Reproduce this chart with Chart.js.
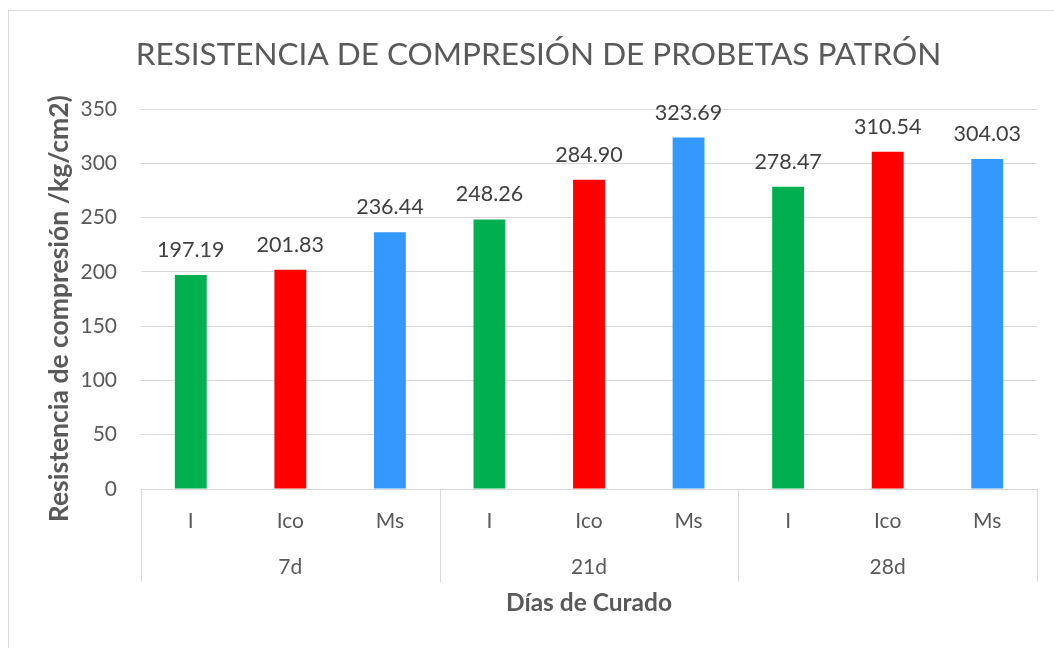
<!DOCTYPE html>
<html>
<head>
<meta charset="utf-8">
<script src="https://cdn.jsdelivr.net/npm/chart.js@4.4.1/dist/chart.umd.min.js"></script>
<style>
  html, body { margin: 0; padding: 0; background: #fff; }
  #wrap { position: relative; width: 1054px; height: 648px; overflow: hidden; }
  #frame { position: absolute; left: 8px; top: 10px; width: 1100px; height: 700px; border: 1px solid #d9d9d9; box-sizing: border-box; }
  canvas { position: absolute; left: 0; top: 0; }
</style>
</head>
<body>
<div id="wrap">
  <div id="frame"></div>
  <canvas id="c" width="1054" height="648"></canvas>
</div>
<script>
const subLabels = ['I', 'Ico', 'Ms', 'I', 'Ico', 'Ms', 'I', 'Ico', 'Ms'];
const groupLabels = ['7d', '21d', '28d'];
const values = [197.19, 201.83, 236.44, 248.26, 284.90, 323.69, 278.47, 310.54, 304.03];
const barColors = ['#00B050', '#FF0000', '#3399FF', '#00B050', '#FF0000', '#3399FF', '#00B050', '#FF0000', '#3399FF'];
const yTicks = [0, 50, 100, 150, 200, 250, 300, 350];

const FONT = 'Lato, "Open Sans", sans-serif';
const TICK_COLOR = '#595959';
const GRID = '#d9d9d9';

const groupPlugin = {
  id: 'groups',
  afterDraw(chart) {
    const ctx = chart.ctx;
    const xs = chart.scales.x;
    const area = chart.chartArea;
    const n = subLabels.length;
    const per = n / groupLabels.length;
    const half = (xs.getPixelForValue(1) - xs.getPixelForValue(0)) / 2;
    ctx.save();
    ctx.strokeStyle = GRID;
    ctx.lineWidth = 1;
    for (let g = 0; g <= groupLabels.length; g++) {
      const idx = Math.min(g * per, n - 1);
      let px = xs.getPixelForValue(idx) + (g * per >= n ? half : -half);
      px = Math.round(px) + 0.5;
      ctx.beginPath();
      ctx.moveTo(px, area.bottom);
      ctx.lineTo(px, area.bottom + 93);
      ctx.stroke();
    }
    ctx.fillStyle = TICK_COLOR;
    ctx.font = '21px ' + FONT;
    ctx.textAlign = 'center';
    ctx.textBaseline = 'middle';
    groupLabels.forEach((lab, g) => {
      const a = xs.getPixelForValue(g * per);
      const b = xs.getPixelForValue(g * per + per - 1);
      ctx.fillText(lab, (a + b) / 2, area.bottom + 78);
    });
    ctx.restore();
  }
};

const labelPlugin = {
  id: 'vlabels',
  afterDatasetsDraw(chart) {
    const ctx = chart.ctx;
    const meta = chart.getDatasetMeta(0);
    ctx.save();
    ctx.fillStyle = '#404040';
    ctx.font = '21.5px ' + FONT;
    ctx.textAlign = 'center';
    ctx.textBaseline = 'middle';
    meta.data.forEach((bar, i) => {
      ctx.fillText(values[i].toFixed(2), bar.x, bar.y - 25);
    });
    ctx.restore();
  }
};

new Chart(document.getElementById('c'), {
  type: 'bar',
  data: {
    labels: subLabels,
    datasets: [{
      data: values,
      backgroundColor: barColors,
      borderWidth: 0,
      categoryPercentage: 1.0,
      barPercentage: 0.32
    }]
  },
  options: {
    responsive: false,
    animation: false,
    devicePixelRatio: 1,
    layout: { padding: { left: 40, right: 17, top: 0, bottom: 0 } },
    plugins: {
      legend: { display: false },
      tooltip: { enabled: false },
      title: {
        display: true,
        text: 'RESISTENCIA DE COMPRESIÓN DE PROBETAS PATRÓN',
        color: TICK_COLOR,
        font: { family: FONT, size: 31.5, weight: 'normal', lineHeight: 1.2 },
        padding: { top: 36, bottom: 35.2 }
      }
    },
    scales: {
      x: {
        type: 'category',
        grid: { display: false, drawTicks: false },
        border: { display: true, color: GRID, width: 1 },
        ticks: { color: TICK_COLOR, font: { family: FONT, size: 21 }, padding: 20, maxRotation: 0, autoSkip: false },
        title: {
          display: true,
          text: 'Días de Curado',
          color: TICK_COLOR,
          font: { family: FONT, size: 24.5, weight: 'bold', lineHeight: 1.2 },
          padding: { top: 0, bottom: 30.3 }
        },
        afterFit(scale) { scale.height = 159; }
      },
      y: {
        min: 0,
        max: 350,
        afterBuildTicks(scale) { scale.ticks = yTicks.map(v => ({ value: v })); },
        grid: { color: GRID, lineWidth: 1, drawTicks: false },
        border: { display: false },
        ticks: { color: TICK_COLOR, font: { family: FONT, size: 21 }, padding: 24 },
        title: {
          display: true,
          text: 'Resistencia de compresión /kg/cm2)   ',
          color: TICK_COLOR,
          font: { family: FONT, size: 26.5, weight: 'bold', lineHeight: 1.2 },
          padding: { top: 4, bottom: 0 }
        },
        afterFit(scale) { scale.width = 101; }
      }
    }
  },
  plugins: [groupPlugin, labelPlugin]
});
</script>
</body>
</html>
